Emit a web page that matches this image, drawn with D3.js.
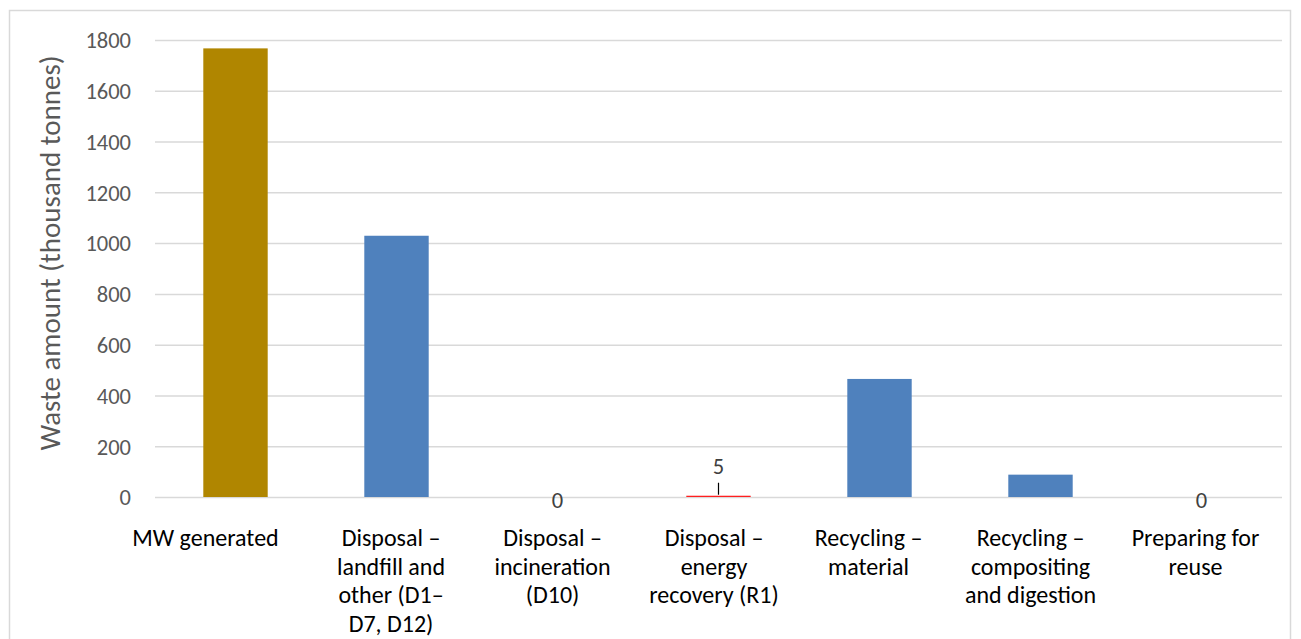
<!DOCTYPE html>
<html>
<head>
<meta charset="utf-8">
<script src="https://cdn.jsdelivr.net/npm/d3@7"></script>
<style>
  html, body { margin: 0; padding: 0; background: #fff; }
  svg { display: block; }
  text { font-family: Carlito, Calibri, Lato, "Open Sans", sans-serif; }
</style>
</head>
<body>
<svg id="chart" width="1301" height="639"></svg>
<script>
// Municipal waste generated and treated (thousand tonnes)
const categories = [
  "MW generated",
  "Disposal – landfill and other (D1–D7, D12)",
  "Disposal – incineration (D10)",
  "Disposal – energy recovery (R1)",
  "Recycling – material",
  "Recycling – compositing and digestion",
  "Preparing for reuse"
];
const categoryLines = [
  ["MW generated"],
  ["Disposal –", "landfill and", "other (D1–", "D7, D12)"],
  ["Disposal –", "incineration", "(D10)"],
  ["Disposal –", "energy", "recovery (R1)"],
  ["Recycling –", "material"],
  ["Recycling –", "compositing", "and digestion"],
  ["Preparing for", "reuse"]
];
const values = [1767, 1029, 0, 5, 465, 88, 0];
const barColors = ["#B08600", "#4F81BD", "#4F81BD", "#FF2020", "#4F81BD", "#4F81BD", "#4F81BD"];
// categories whose value is printed above the bar
const labelled = [false, false, true, true, false, false, true];
const yTicks = [0, 200, 400, 600, 800, 1000, 1200, 1400, 1600, 1800];
const yTitle = "Waste amount (thousand tonnes)";

const svg = d3.select("#chart");
const plot = { left: 155, right: 1282, top: 40, bottom: 497 };

// outer frame
svg.append("rect")
  .attr("x", 9.5).attr("y", 10.5)
  .attr("width", 1281).attr("height", 640)
  .attr("fill", "none").attr("stroke", "#d9d9d9").attr("stroke-width", 1.5);

const x = d3.scaleBand()
  .domain(categories)
  .range([plot.left, plot.right])
  .paddingInner(0.6).paddingOuter(0.3);

const y = d3.scaleLinear()
  .domain([0, 1800])
  .range([plot.bottom, plot.top]);

// horizontal gridlines + tick labels
const yAxis = d3.axisLeft(y)
  .tickValues(yTicks)
  .tickSize(-(plot.right - plot.left))
  .tickPadding(24)
  .tickFormat(d3.format("d"));

const gy = svg.append("g")
  .attr("transform", `translate(${plot.left},0)`)
  .call(yAxis);
gy.select(".domain").remove();
gy.selectAll(".tick line").attr("stroke", "#d9d9d9").attr("stroke-width", 1.5);
gy.selectAll(".tick text")
  .attr("fill", "#595959")
  .attr("font-size", 22.5)
  .attr("dy", "0.35em");

// bars
svg.append("g").selectAll("rect")
  .data(categories)
  .join("rect")
  .attr("x", d => x(d))
  .attr("width", x.bandwidth())
  .attr("y", (d, i) => y(values[i]))
  .attr("height", (d, i) => y(0) - y(values[i]))
  .attr("fill", (d, i) => barColors[i]);

// data labels
const lab = svg.append("g");
categories.forEach((c, i) => {
  if (!labelled[i]) return;
  const cx = x(c) + x.bandwidth() / 2;
  if (values[i] > 0) {
    const top = y(values[i]);
    lab.append("line")
      .attr("x1", cx).attr("x2", cx)
      .attr("y1", top - 1).attr("y2", top - 13)
      .attr("stroke", "#000").attr("stroke-width", 1.2);
    lab.append("text")
      .attr("x", cx).attr("y", top - 30)
      .attr("dy", "0.35em")
      .attr("text-anchor", "middle")
      .attr("font-size", 22.5).attr("fill", "#404040")
      .text(values[i]);
  } else {
    lab.append("text")
      .attr("x", cx).attr("y", y(values[i]) + 3)
      .attr("dy", "0.35em")
      .attr("text-anchor", "middle")
      .attr("font-size", 22.5).attr("fill", "#404040")
      .text(values[i]);
  }
});

// category labels (wrapped; label blocks sit slightly left of the bar centres)
const labelNudge = [-30, -5.5, -5, -4.5, -11, -10, -6];
const xl = svg.append("g");
categories.forEach((c, i) => {
  const lx = x(c) + x.bandwidth() / 2 + labelNudge[i];
  const t = xl.append("text")
    .attr("x", lx)
    .attr("y", 538)
    .attr("text-anchor", "middle")
    .attr("font-size", 24)
    .attr("fill", "#000");
  categoryLines[i].forEach((line, k) => {
    t.append("tspan")
      .attr("x", lx)
      .attr("y", 538 + k * 28.5)
      .attr("dy", "0.35em")
      .text(line);
  });
});

// y-axis title
svg.append("text")
  .attr("transform", `translate(60,253) rotate(-90)`)
  .attr("text-anchor", "middle")
  .attr("font-size", 29)
  .attr("fill", "#595959")
  .text(yTitle);
</script>
</body>
</html>
